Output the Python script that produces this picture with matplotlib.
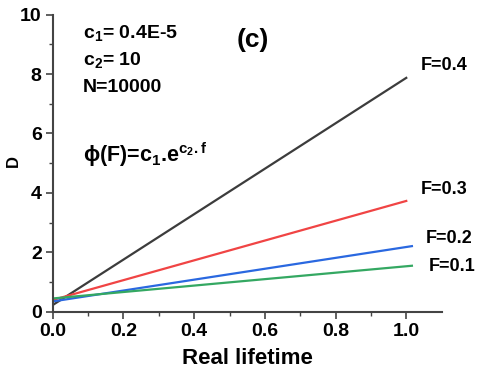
import numpy as np
import matplotlib
matplotlib.use('Agg')
import matplotlib.pyplot as plt

plt.rcParams['font.family'] = ['Liberation Sans', 'DejaVu Sans']
plt.rcParams['font.weight'] = 'bold'
plt.rcParams['mathtext.fontset'] = 'custom'
plt.rcParams['mathtext.rm'] = 'Liberation Sans:bold'
plt.rcParams['mathtext.bf'] = 'Liberation Sans:bold'
plt.rcParams['mathtext.it'] = 'Liberation Sans:bold'
plt.rcParams['mathtext.default'] = 'bf'

# data (lifetime vs D)
x_04 = [0.0, 1.0]
d_04 = [0.23, 7.87]
x_03 = [0.0, 1.0]
d_03 = [0.40, 3.73]
x_02 = [0.0, 1.016]
d_02 = [0.35, 2.21]
x_01 = [0.0, 1.016]
d_01 = [0.45, 1.55]

labels = ['F=0.4', 'F=0.3', 'F=0.2', 'F=0.1']
label_pos = [(1.108, 8.3), (1.108, 4.1), (1.12, 2.45), (1.13, 1.54)]

fig = plt.figure(figsize=(4.8, 3.73), dpi=100)
ax = fig.add_axes([0.110, 0.164, 0.810, 0.797])

ax.plot(x_04, d_04, color='#3c3c3c', lw=1.6)
ax.plot(x_03, d_03, color='#f04444', lw=1.6)
ax.plot(x_02, d_02, color='#2a68e0', lw=1.6)
ax.plot(x_01, d_01, color='#34a862', lw=1.6)

for lab, (lx, ly) in zip(labels, label_pos):
    ax.text(lx, ly, lab, fontsize=13, fontweight='bold', ha='center', va='center',
            clip_on=False)

ax.set_xlim(0, 1.1)
ax.set_ylim(0, 10)
ax.set_xticks([0.0, 0.2, 0.4, 0.6, 0.8, 1.0])
ax.set_xticks(np.arange(0.1, 1.1, 0.2), minor=True)
ax.set_yticks([0, 2, 4, 6, 8, 10])
ax.set_yticks([1, 3, 5, 7, 9], minor=True)
ax.set_xticklabels(['0.0', '0.2', '0.4', '0.6', '0.8', '1.0'])

for s in ['top', 'right']:
    ax.spines[s].set_visible(False)
for s in ['left', 'bottom']:
    ax.spines[s].set_color('#444444')
    ax.spines[s].set_linewidth(1.5)
ax.tick_params(which='major', direction='out', length=5, width=1.2, color='#444444',
               labelsize=14, pad=3)
ax.tick_params(which='minor', direction='out', length=3, width=1.0, color='#444444')

ax.set_xlabel('Real lifetime', fontsize=16, fontweight='bold', labelpad=6)
ax.set_ylabel('D', fontsize=12, fontweight='bold')
ax.yaxis.set_label_coords(-0.082, 0.506)

ax.text(0.085, 9.38, 'c$_1$= 0.4E-5', fontsize=14, fontweight='bold', va='center')
ax.text(0.085, 8.47, 'c$_2$= 10', fontsize=14, fontweight='bold', va='center')
ax.text(0.085, 7.53, 'N=10000', fontsize=14, fontweight='bold', va='center')
ax.text(0.085, 5.28, r'$\phi$(F)=c$_1$.e$^{c_2.f}$', fontsize=15.5, fontweight='bold',
        va='center')
ax.text(0.567, 9.15, '(c)', fontsize=19, fontweight='bold', ha='center', va='center')

fig.savefig('out.png', dpi=100)
